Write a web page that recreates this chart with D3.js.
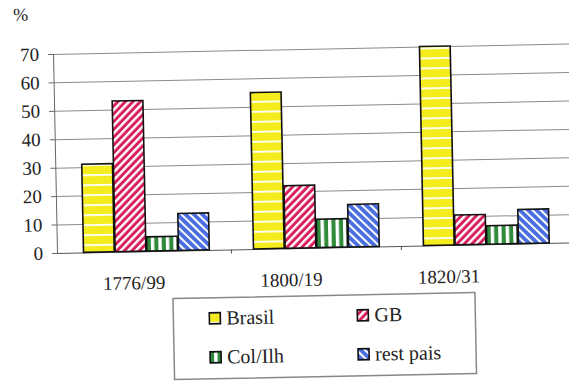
<!DOCTYPE html>
<html>
<head>
<meta charset="utf-8">
<script src="https://cdn.jsdelivr.net/npm/d3@7"></script>
<style>
html,body{margin:0;padding:0;background:#fff;}
svg{display:block;}
svg text{font-family:"Liberation Serif","Times New Roman","DejaVu Serif",serif !important;fill:#222;}
</style>
</head>
<body>
<svg id="chart" width="569" height="384"></svg>
<script>
// ---- data ----
const categories = ["1776/99", "1800/19", "1820/31"];
const seriesNames = ["Brasil", "GB", "Col/Ilh", "rest pais"];
const brasil = [31, 55, 70];
const gb = [53, 22, 10.5];
const colIlh = [5, 10, 6.5];
const restPais = [13, 15, 12];
const yTicks = [0, 10, 20, 30, 40, 50, 60, 70];
const yUnit = "%";

const seriesValues = [brasil, gb, colIlh, restPais];
const patternIds = ["pBrasil", "pGB", "pCol", "pRest"];
const FONT = '"Liberation Serif","Times New Roman","DejaVu Serif",serif';

const svg = d3.select("#chart");
const defs = svg.append("defs");

// patterns
function pattern(id, w, h, bg, rot) {
  const p = defs.append("pattern").attr("id", id)
    .attr("patternUnits", "userSpaceOnUse").attr("width", w).attr("height", h);
  if (rot) p.attr("patternTransform", `rotate(${rot})`);
  p.append("rect").attr("width", w).attr("height", h).attr("fill", bg);
  return p;
}
const pb = pattern("pBrasil", 10, 10, "#f5ec1e");
pb.append("rect").attr("x", 0).attr("y", 0).attr("width", 10).attr("height", 1.8).attr("fill", "#fff");
const pg = pattern("pGB", 5.4, 5.4, "#d81f5c", 45);
pg.append("rect").attr("x", 0).attr("y", 0).attr("width", 2.4).attr("height", 5.4).attr("fill", "#fff");
const pc = pattern("pCol", 7.5, 10, "#2f8a3a");
pc.append("rect").attr("x", 0).attr("y", 0).attr("width", 3.4).attr("height", 10).attr("fill", "#fff");
const pr = pattern("pRest", 5.8, 5.8, "#4a6ee0", -45);
pr.append("rect").attr("x", 0).attr("y", 0).attr("width", 2).attr("height", 5.8).attr("fill", "#fff");

const g = svg.append("g").attr("transform", "rotate(-1.15 300 150)");

const axisX = 55;
const y = d3.scaleLinear().domain([0, 70]).range([248, 49]);
const x0 = d3.scaleBand().domain(categories).range([59.4, 569.4])
  .paddingInner(0.26).paddingOuter(0.13);
const x1 = d3.scaleBand().domain(seriesNames).range([0, x0.bandwidth()]).paddingInner(0.03);

// gridlines
const grid = g.append("g").attr("transform", `translate(${axisX},0)`)
  .call(d3.axisLeft(y).tickValues(yTicks).tickSize(-(585 - axisX)).tickFormat(""));
grid.select(".domain").remove();
grid.selectAll(".tick line").attr("stroke", "#8a8a8a").attr("stroke-width", 1);
grid.selectAll(".tick").filter(d => d === 0).select("line").attr("stroke", "#555");

// category boundary ticks on the baseline
const step = x0.step();
const bounds = categories.slice(1).map((c, i) => x0(c) - step * x0.paddingInner() / 2);
g.append("g").selectAll("line").data(bounds).join("line")
  .attr("x1", d => d).attr("x2", d => d)
  .attr("y1", y(0)).attr("y2", y(0) + 4)
  .attr("stroke", "#555").attr("stroke-width", 1);

// y axis
const ya = g.append("g").attr("transform", `translate(${axisX},0)`)
  .call(d3.axisLeft(y).tickValues(yTicks).tickSize(5).tickPadding(9));
ya.attr("font-family", FONT);
ya.select(".domain").attr("stroke", "#666").attr("stroke-width", 1);
ya.selectAll(".tick line").attr("stroke", "#666");
ya.selectAll(".tick text").attr("font-size", 19).attr("fill", "#222");

g.append("text").attr("x", 16).attr("y", 15).attr("font-size", 18).text(yUnit);

// bars
const groups = g.append("g").selectAll("g").data(categories).join("g")
  .attr("transform", d => `translate(${x0(d)},0)`);
groups.selectAll("rect")
  .data((c, ci) => seriesNames.map((s, si) => ({ s, si, v: seriesValues[si][ci] })))
  .join("rect")
  .attr("x", d => x1(d.s))
  .attr("width", x1.bandwidth())
  .attr("y", d => y(d.v))
  .attr("height", d => y(0) - y(d.v))
  .attr("fill", d => `url(#${patternIds[d.si]})`)
  .attr("stroke", "#111").attr("stroke-width", 1.6);

// x labels
const xl = d3.scalePoint().domain(categories).range([131, 446]);
const xa = g.append("g").attr("transform", "translate(0,286)")
  .call(d3.axisBottom(xl).tickSize(0));
xa.attr("font-family", FONT);
xa.select(".domain").remove();
xa.selectAll(".tick text").attr("y", 0).attr("dy", 0).attr("font-size", 19).attr("fill", "#222");

// legend
const lg = g.append("g").attr("font-family", FONT);
lg.append("rect").attr("x", 170).attr("y", 296).attr("width", 302).attr("height", 81)
  .attr("fill", "#fff").attr("stroke", "#888").attr("stroke-width", 1.5);
const legPos = [[206, 311], [354, 311], [206, 350], [354, 350]];
seriesNames.forEach((s, i) => {
  const [lx, ly] = legPos[i];
  lg.append("rect").attr("x", lx).attr("y", ly).attr("width", 11).attr("height", 11)
    .attr("fill", `url(#${patternIds[i]})`).attr("stroke", "#111").attr("stroke-width", 1.6);
  lg.append("text").attr("x", lx + 17).attr("y", ly + 12).attr("font-size", 20).text(s);
});
</script>
</body>
</html>
